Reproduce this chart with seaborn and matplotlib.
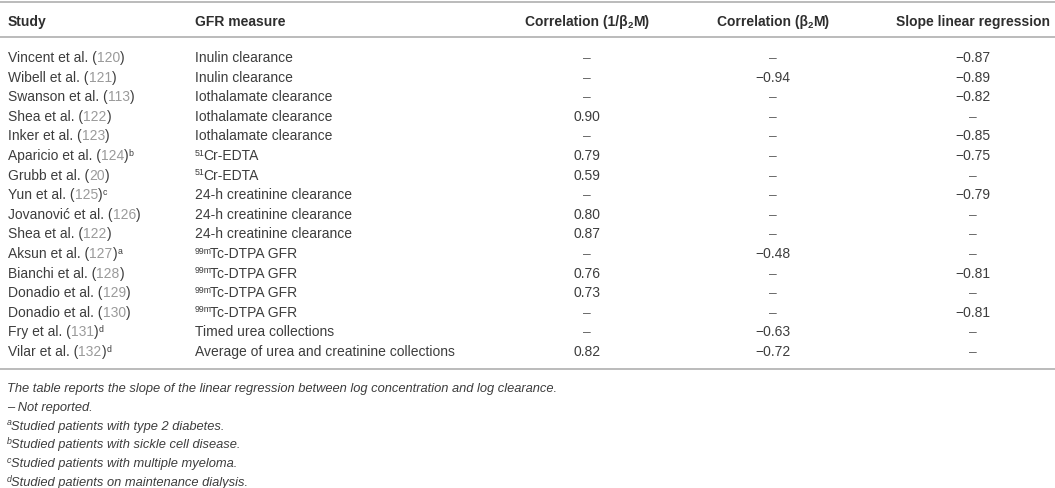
import numpy as np
import pandas as pd
import matplotlib
matplotlib.use("Agg")
import matplotlib.pyplot as plt
import seaborn as sns

# table content
studies = ["Vincent et al.", "Wibell et al.", "Swanson et al.", "Shea et al.", "Inker et al.",
           "Aparicio et al.", "Grubb et al.", "Yun et al.", "Jovanović et al.", "Shea et al.",
           "Aksun et al.", "Bianchi et al.", "Donadio et al.", "Donadio et al.", "Fry et al.",
           "Vilar et al."]
refs = ["120", "121", "113", "122", "123", "124", "20", "125", "126", "122",
        "127", "128", "129", "130", "131", "132"]
study_notes = ["", "", "", "", "", "b", "", "c", "", "", "a", "", "", "", "d", "d"]
gfr_iso = ["", "", "", "", "", "51", "51", "", "", "", "99m", "99m", "99m", "99m", "", ""]
gfr = ["Inulin clearance", "Inulin clearance", "Iothalamate clearance", "Iothalamate clearance",
       "Iothalamate clearance", "Cr-EDTA", "Cr-EDTA", "24-h creatinine clearance",
       "24-h creatinine clearance", "24-h creatinine clearance", "Tc-DTPA GFR", "Tc-DTPA GFR",
       "Tc-DTPA GFR", "Tc-DTPA GFR", "Timed urea collections",
       "Average of urea and creatinine collections"]
corr_inv = [None, None, None, 0.90, None, 0.79, 0.59, None, 0.80, 0.87,
            None, 0.76, 0.73, None, None, 0.82]
corr_b2m = [None, -0.94, None, None, None, None, None, None, None, None,
            -0.48, None, None, None, -0.63, -0.72]
slope = [-0.87, -0.89, -0.82, None, -0.85, -0.75, None, -0.79, None, None,
         None, -0.81, None, -0.81, None, None]
footnotes = [("", "The table reports the slope of the linear regression between log concentration and log clearance."),
             ("", "– Not reported."),
             ("a", "Studied patients with type 2 diabetes."),
             ("b", "Studied patients with sickle cell disease."),
             ("c", "Studied patients with multiple myeloma."),
             ("d", "Studied patients on maintenance dialysis.")]

df = pd.DataFrame({"study": studies, "ref": refs, "note": study_notes, "iso": gfr_iso,
                   "gfr": gfr, "corr_inv": corr_inv, "corr_b2m": corr_b2m, "slope": slope})

sns.set_theme(style="white")
plt.rcParams['font.family'] = ['Liberation Sans', 'DejaVu Sans']

W, H = 1055, 489
fig = plt.figure(figsize=(W / 100, H / 100), dpi=100)
ax = fig.add_axes([0, 0, 1, 1])
ax.set_xlim(0, W)
ax.set_ylim(H, 0)
ax.axis('off')
renderer = fig.canvas.get_renderer()

FS = 10
FS_NOTE = 9.3
SUP = 6.3
DARK = "#3d3d3d"
LIGHT = "#9a9a9a"
HEAD = "#2e2e2e"


def draw_runs(x, y, parts, ha='left'):
    # draw text pieces one after another on a shared baseline
    arts = []
    cx = x
    for s, st in parts:
        st = dict(st)
        dy = st.pop('dy', 0)
        gap = st.pop('gap', 0)
        t = ax.text(cx, y + dy, s, va='baseline', ha='left', **st)
        cx += t.get_window_extent(renderer).width + gap
        arts.append(t)
    if ha == 'center':
        off = (cx - x) / 2
        for t in arts:
            px, py = t.get_position()
            t.set_x(px - off)
    return cx


def fmt(v):
    if v is None or pd.isna(v):
        return "–"
    return f"{v:.2f}".replace("-", "−")


body = dict(fontsize=FS, color=DARK)
bold = dict(fontsize=FS, color=HEAD, fontweight='bold')
bold_sub = dict(fontsize=SUP + 0.5, color=HEAD, fontweight='bold', dy=2.5)

x_study, x_gfr = 8, 195
x_c1, x_c2, x_c3 = 587, 773, 973

# rules
for yl in [2.5, 38, 370]:
    ax.axhline(yl, color="#a8a8a8", lw=1.1)

# header
yh = 26
draw_runs(x_study, yh, [("Study", bold)])
draw_runs(x_gfr, yh, [("GFR measure", bold)])
draw_runs(x_c1, yh, [("Correlation (1/β", bold), ("2", bold_sub), ("M)", bold)], ha='center')
draw_runs(x_c2, yh, [("Correlation (β", bold), ("2", bold_sub), ("M)", bold)], ha='center')
draw_runs(x_c3, yh, [("Slope linear regression", bold)], ha='center')

# rows
y0, dy = 62, 19.6
for i, row in df.iterrows():
    y = y0 + i * dy
    parts = [(row["study"] + " (", body), (row["ref"], dict(fontsize=FS, color=LIGHT)), (")", body)]
    if row["note"]:
        parts.append((row["note"], dict(fontsize=SUP, color=DARK, dy=-4.5)))
    draw_runs(x_study, y, parts)
    gparts = []
    if row["iso"]:
        gparts.append((row["iso"], dict(fontsize=SUP, color=DARK, dy=-4.5, gap=-1.5)))
    gparts.append((row["gfr"], body))
    draw_runs(x_gfr, y, gparts)
    for xc, col in [(x_c1, "corr_inv"), (x_c2, "corr_b2m"), (x_c3, "slope")]:
        v = row[col]
        txt = fmt(v)
        draw_runs(xc, y, [(txt, dict(fontsize=FS, color=DARK if txt != "–" else "#6a6a6a"))],
                  ha='center')

# footnotes
yf0, dyf = 392, 18.8
for j, (mark, txt) in enumerate(footnotes):
    y = yf0 + j * dyf
    parts = []
    if mark:
        parts.append((mark, dict(fontsize=SUP, color=DARK, style='italic', dy=-4.5, gap=-0.5)))
    parts.append((txt, dict(fontsize=FS_NOTE, color=DARK, style='italic')))
    draw_runs(x_study - 1, y, parts)

fig.savefig("out.png", dpi=100)
